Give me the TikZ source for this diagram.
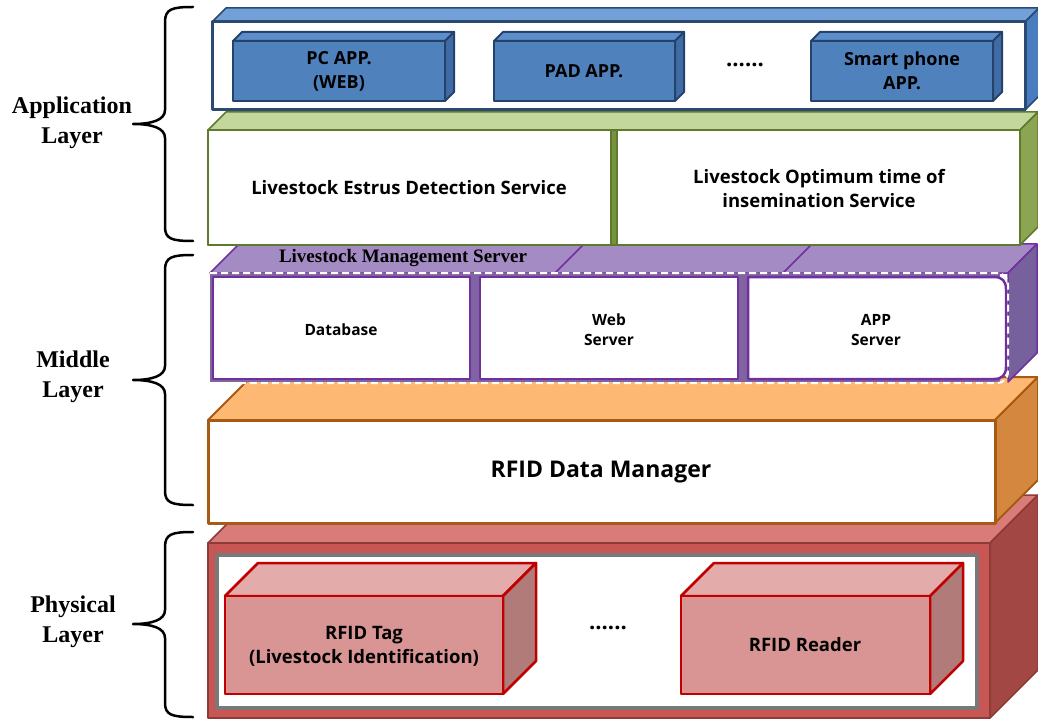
\documentclass[tikz,border=0pt]{standalone}
\usepackage{fontspec}
\setmainfont{Liberation Serif}
\newfontfamily\boxfont{Open Sans}
\definecolor{bltop}{HTML}{74A0D8}
\definecolor{blside}{HTML}{4A7CC0}
\definecolor{blbord}{HTML}{2B4A72}
\definecolor{bifront}{HTML}{4F81BD}
\definecolor{bitop}{HTML}{5C8DCC}
\definecolor{biside}{HTML}{3F6CA6}
\definecolor{bibord}{HTML}{24426A}
\definecolor{grtop}{HTML}{C3D69B}
\definecolor{grside}{HTML}{8BA552}
\definecolor{grbord}{HTML}{5F7A2F}
\definecolor{grband}{HTML}{76923C}
\definecolor{putop}{HTML}{A48BC4}
\definecolor{puside}{HTML}{76619C}
\definecolor{pubord}{HTML}{7030A0}
\definecolor{puband}{HTML}{8064A2}
\definecolor{ortop}{HTML}{FDB874}
\definecolor{orside}{HTML}{D4873F}
\definecolor{orbord}{HTML}{A65A12}
\definecolor{rdtop}{HTML}{D97B79}
\definecolor{rdfront}{HTML}{C85654}
\definecolor{rdside}{HTML}{A24744}
\definecolor{rdbord}{HTML}{8C3B39}
\definecolor{rifront}{HTML}{D99594}
\definecolor{ritop}{HTML}{E3ABAA}
\definecolor{riside}{HTML}{B07B79}
\definecolor{ribord}{HTML}{C00000}
% #1 x1, #2 y1, #3 x2, #4 y2, #5 depth, #6 style prefix
\newcommand{\mycuboid}[6]{%
  \filldraw[#6top] (#1,#2) -- ({#1+#5},{#2-#5}) -- ({#3+#5},{#2-#5}) -- (#3,#2) -- cycle;
  \filldraw[#6side] (#3,#2) -- ({#3+#5},{#2-#5}) -- ({#3+#5},{#4-#5}) -- (#3,#4) -- cycle;
  \filldraw[#6front] (#1,#2) rectangle (#3,#4);
}
\begin{document}
\begin{tikzpicture}[x=1pt,y=-1pt,line join=round,
  rdtop/.style={fill=rdtop,draw=rdbord,line width=1.5pt},
  rdside/.style={fill=rdside,draw=rdbord,line width=1.5pt},
  rdfront/.style={fill=rdfront,draw=rdbord,line width=1.5pt},
  ritop/.style={fill=ritop,draw=ribord,line width=2.5pt},
  riside/.style={fill=riside,draw=ribord,line width=2.5pt},
  rifront/.style={fill=rifront,draw=ribord,line width=2.5pt},
  ortop/.style={fill=ortop,draw=orbord,line width=2pt},
  orside/.style={fill=orside,draw=orbord,line width=2pt},
  orfront/.style={fill=white,draw=orbord,line width=3pt},
  putop/.style={fill=putop,draw=pubord,line width=1.5pt},
  puside/.style={fill=puside,draw=pubord,line width=1.5pt},
  grtop/.style={fill=grtop,draw=grbord,line width=1.5pt},
  grside/.style={fill=grside,draw=grbord,line width=1.5pt},
  grfront/.style={fill=grband,draw=grbord,line width=2.5pt},
  bltop/.style={fill=bltop,draw=blbord,line width=1.5pt},
  blside/.style={fill=blside,draw=blbord,line width=1.5pt},
  blfront/.style={fill=white,draw=blbord,line width=3pt},
  bitop/.style={fill=bitop,draw=bibord,line width=2pt},
  biside/.style={fill=biside,draw=bibord,line width=2pt},
  bifront/.style={fill=bifront,draw=bibord,line width=2pt},
  txt/.style={align=center, inner sep=0pt, text=black},
  lbl/.style={font=\bfseries\fontsize{24}{30}\selectfont, align=center, inner sep=0pt},
  brace/.style={draw=black,line width=2.5pt,line cap=round},
  pubox/.style={fill=white,draw=pubord,line width=2.5pt}
]
\useasboundingbox (0,0) rectangle (1038,719);

% ---------------- Physical layer (red) ----------------
\mycuboid{208}{543}{990}{718}{48}{rd}
\filldraw[fill=white,draw=gray!95!black,line width=4pt] (217,555) rectangle (977,708);
\mycuboid{225}{596}{503}{694}{33}{ri}
\mycuboid{681}{596}{930}{694}{33}{ri}
\node[txt,font=\boxfont\bfseries\fontsize{18.5}{24}\selectfont] (tag) at (364,646) {RFID Tag\\(Livestock Identification)};
\node[txt,font=\boxfont\bfseries\fontsize{22}{24}\selectfont] (rdots) at (608,628) {......};
\node[txt,font=\boxfont\bfseries\fontsize{18.5}{24}\selectfont] (reader) at (805,645) {RFID Reader};

% ---------------- RFID Data Manager (orange) ----------------
\mycuboid{208}{420}{995}{523}{43}{or}
\node[txt,font=\boxfont\bfseries\fontsize{23}{28}\selectfont] (rdm) at (601,472) {RFID Data Manager};

% ---------------- Livestock Management Server (purple) ----------------
\filldraw[putop] (210,273) -- (239,244) -- (1037,244) -- (1008,273) -- cycle;
\filldraw[puside] (1008,273) -- (1037,244) -- (1037,353) -- (1008,382) -- cycle;
\draw[draw=pubord,line width=1.5pt] (555,273) -- (584,244);
\draw[draw=pubord,line width=1.5pt] (783,273) -- (812,244);
\fill[puband] (210,273) rectangle (1000,382);
\filldraw[pubox] (213,277) rectangle (470,379);
\filldraw[pubox] (480,277) rectangle (738,379);
\filldraw[pubox] (748,277) -- (994,277) .. controls (1002,277) and (1006,281) .. (1006,289) -- (1006,367) .. controls (1006,375) and (1002,379) .. (994,379) -- (748,379) -- cycle;
\draw[white,line width=2pt,dash pattern=on 7pt off 4pt] (210,273) -- (996,273) .. controls (1004,273) and (1008,277) .. (1008,285) -- (1008,371) .. controls (1008,379) and (1004,383) .. (996,383) -- (210,383);
\node[font=\bfseries\fontsize{19}{20}\selectfont,inner sep=0pt] (lms) at (403,258) {Livestock Management Server};
\node[txt,font=\boxfont\bfseries\fontsize{15.5}{20}\selectfont] (db) at (341,330) {Database};
\node[txt,font=\boxfont\bfseries\fontsize{15.5}{20}\selectfont] (web) at (609,330) {Web\\Server};
\node[txt,font=\boxfont\bfseries\fontsize{15.5}{20}\selectfont] (apps) at (876,330) {APP\\Server};

% ---------------- Services (green) ----------------
\mycuboid{208}{130}{1020}{245}{18}{gr}
\filldraw[fill=white,draw=grbord,line width=2.5pt] (208,130) rectangle (611,245);
\filldraw[fill=white,draw=grbord,line width=2.5pt] (617,130) rectangle (1020,245);
\node[txt,font=\boxfont\bfseries\fontsize{18.5}{24}\selectfont] (estrus) at (409,188) {Livestock Estrus Detection Service};
\node[txt,font=\boxfont\bfseries\fontsize{18.5}{24}\selectfont] (insem) at (819,189) {Livestock Optimum time of\\insemination Service};

% ---------------- Applications (blue) ----------------
\mycuboid{212}{22}{1025}{110}{14}{bl}
\mycuboid{233}{41}{445}{101}{9}{bi}
\mycuboid{494}{41}{675}{101}{9}{bi}
\mycuboid{811}{41}{993}{101}{9}{bi}
\node[txt,font=\boxfont\bfseries\fontsize{18}{24}\selectfont] (pc) at (339,71) {PC APP.\\(WEB)};
\node[txt,font=\boxfont\bfseries\fontsize{18}{24}\selectfont] (pad) at (584,71) {PAD APP.};
\node[txt,font=\boxfont\bfseries\fontsize{22}{24}\selectfont] (bdots) at (745,65) {......};
\node[txt,font=\boxfont\bfseries\fontsize{18}{24}\selectfont] (phone) at (902,71) {Smart phone\\APP.};

% ---------------- Braces and layer labels ----------------
\draw[brace] (193,7) .. controls (172,7) and (165,9) .. (165,22) -- (165,110) .. controls (165,120) and (152,124) .. (133,124) .. controls (152,124) and (165,128) .. (165,138) -- (165,227) .. controls (165,239) and (172,241) .. (193,241);
\draw[brace] (193,255) .. controls (172,255) and (165,257) .. (165,270) -- (165,366) .. controls (165,376) and (152,380) .. (133,380) .. controls (152,380) and (165,384) .. (165,394) -- (165,491) .. controls (165,503) and (172,505) .. (193,505);
\draw[brace] (193,532) .. controls (172,532) and (165,534) .. (165,547) -- (165,610) .. controls (165,620) and (152,624) .. (133,624) .. controls (152,624) and (165,628) .. (165,638) -- (165,703) .. controls (165,715) and (172,717) .. (193,717);
\node[lbl] (applbl) at (72,123) {Application\\Layer};
\node[lbl] (midlbl) at (73,377) {Middle\\Layer};
\node[lbl] (phylbl) at (73,622) {Physical\\Layer};
\end{tikzpicture}
\end{document}
